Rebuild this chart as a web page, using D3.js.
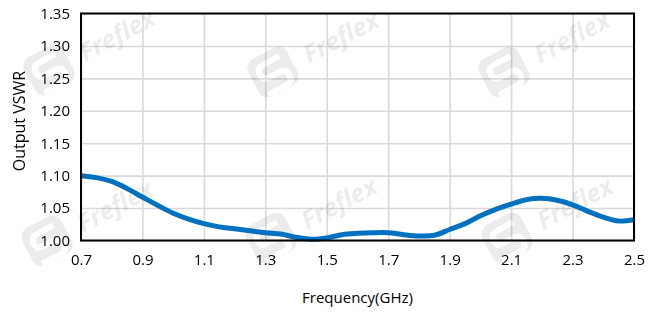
<!DOCTYPE html>
<html><head><meta charset="utf-8">
<script src="https://cdn.jsdelivr.net/npm/d3@7"></script>
<style>body{margin:0;background:#fff}svg{display:block}text{font-family:"Open Sans",sans-serif}</style>
</head><body><svg id="c" width="658" height="312"></svg>
<script>
const freq = [0.70,0.75,0.80,0.85,0.90,0.95,1.00,1.05,1.10,1.15,1.20,1.25,1.30,1.35,1.40,1.45,1.50,1.55,1.60,1.65,1.70,1.75,1.80,1.85,1.90,1.95,2.00,2.05,2.10,2.15,2.20,2.25,2.30,2.35,2.40,2.45,2.50];
const vswr = [1.100,1.097,1.091,1.080,1.067,1.054,1.042,1.033,1.026,1.021,1.018,1.015,1.012,1.010,1.005,1.002,1.004,1.009,1.011,1.012,1.012,1.009,1.007,1.008,1.017,1.026,1.038,1.048,1.056,1.063,1.065,1.062,1.055,1.045,1.036,1.030,1.032];
const xTicks = [0.7,0.9,1.1,1.3,1.5,1.7,1.9,2.1,2.3,2.5];
const yTicks = [1.00,1.05,1.10,1.15,1.20,1.25,1.30,1.35];
const xTitle = "Frequency(GHz)", yTitle = "Output VSWR", mark = "Freflex";

const svg = d3.select("#c");
const L=81,R=634,T=13.5,B=240.5;
const x = d3.scaleLinear().domain([0.7,2.5]).range([L,R]);
const y = d3.scaleLinear().domain([1.0,1.35]).range([B,T]);

// gridlines
svg.append("g").call(d3.axisBottom(x).tickValues(xTicks).tickSize(-(B-T)).tickFormat(""))
  .attr("transform",`translate(0,${B})`)
  .call(g=>{g.select(".domain").remove();g.selectAll("line").attr("stroke","#d9d9d9").attr("stroke-width",1.6);});
svg.append("g").call(d3.axisLeft(y).tickValues(yTicks).tickSize(-(R-L)).tickFormat(""))
  .attr("transform",`translate(${L},0)`)
  .call(g=>{g.select(".domain").remove();g.selectAll("line").attr("stroke","#d9d9d9").attr("stroke-width",1.6);});

// watermarks
const wm = [[85,62],[309,64],[540,64],[83,233],[307,230],[543,230]];
const wg = svg.append("g").attr("opacity",0.075);
wm.forEach(([a,b])=>{
  wg.append("text").attr("transform",`translate(${a},${b}) rotate(-28)`)
    .attr("font-size",25).attr("font-weight","bold").attr("font-style","italic").attr("fill","#000").text(mark);
  const lg = wg.append("g").attr("transform",`translate(${a-36},${b+8}) rotate(-28)`);
  lg.append("rect").attr("x",-22).attr("y",-21).attr("width",44).attr("height",42).attr("rx",10).attr("fill","#000");
  lg.append("path").attr("d","M13,-11 L-6,-11 Q-13,-11 -13,-4 Q-13,3 -6,3 L6,3 Q13,3 13,10 Q13,18 6,18 L-15,18")
    .attr("fill","none").attr("stroke","#fff").attr("stroke-width",6);
});

// line
svg.append("path").datum(freq.map((f,i)=>[f,vswr[i]]))
  .attr("fill","none").attr("stroke","#0070c0").attr("stroke-width",5).attr("stroke-linejoin","round")
  .attr("d",d3.line().x(d=>x(d[0])).y(d=>y(d[1])).curve(d3.curveCatmullRom));

// frame
svg.append("rect").attr("x",L).attr("y",T).attr("width",R-L).attr("height",B-T)
  .attr("fill","none").attr("stroke","#000").attr("stroke-width",2);

// axes labels
const xa = svg.append("g").attr("transform",`translate(0,${B})`)
  .call(d3.axisBottom(x).tickValues(xTicks).tickSize(0).tickPadding(14).tickFormat(d3.format(".1f")));
xa.select(".domain").remove();
xa.selectAll("text").attr("font-size",15).attr("fill","#000").attr("font-family","Open Sans");
const ya = svg.append("g").attr("transform",`translate(${L},0)`)
  .call(d3.axisLeft(y).tickValues(yTicks).tickSize(0).tickPadding(11).tickFormat(d3.format(".2f")));
ya.select(".domain").remove();
ya.selectAll("text").attr("font-size",15).attr("fill","#000").attr("font-family","Open Sans");

svg.append("text").attr("x",(L+R)/2).attr("y",303).attr("text-anchor","middle").attr("font-size",15).attr("fill","#000").text(xTitle);
svg.append("text").attr("transform",`translate(25,121) rotate(-90)`).attr("text-anchor","middle").attr("font-size",16).attr("fill","#000").text(yTitle);
</script></body></html>
